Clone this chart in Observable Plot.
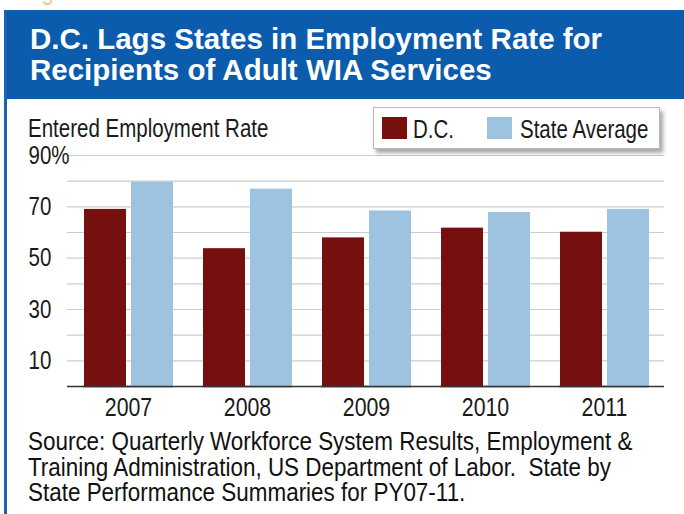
<!DOCTYPE html>
<html>
<head>
<meta charset="utf-8">
<script src="https://cdn.jsdelivr.net/npm/d3@7"></script>
<script src="https://cdn.jsdelivr.net/npm/@observablehq/plot@0.6"></script>
<style>
  html, body { margin: 0; padding: 0; background: #fff; }
  body { width: 684px; height: 514px; position: relative; overflow: hidden;
         font-family: "Liberation Sans", Arial, sans-serif; }
  .abs { position: absolute; white-space: nowrap; }
  .nar { display: inline-block; transform: scaleX(0.82); transform-origin: 0 0; }
  #fig { left: 24px; top: -22px; font-size: 26px; color: #f0c68a; line-height: 26px; }
  #banner { left: 4px; top: 10px; width: 680px; height: 89px; background: #0b5cad; }
  #title { left: 30px; top: 23px; font-size: 29.5px; font-weight: bold; color: #fff; line-height: 31px; }
  #leftborder { left: 4px; top: 10px; width: 3px; height: 504px; background: #1b64b1; }
  #ylabel { left: 28px; top: 116px; font-size: 25px; line-height: 25px; color: #1a1a1a; }
  #legend { left: 373px; top: 107px; width: 285px; height: 40px; background: #fff;
            border: 1px solid #b8b8b8; box-shadow: 3px 4px 4px rgba(0,0,0,0.35); }
  .sw { position: absolute; top: 9px; width: 25px; height: 22px; }
  .lt { position: absolute; top: 9px; font-size: 25px; line-height: 25px; color: #1a1a1a; white-space: nowrap; }
  #caption { left: 28px; top: 429px; font-size: 25.5px; line-height: 25.5px; color: #111; }
  #caption .nar { transform: scaleX(0.88); }
  .layer { position: absolute; left: 0; top: 140px; }
</style>
</head>
<body>
<div id="fig" class="abs"><span class="nar">Figure 1</span></div>
<div id="banner" class="abs"></div>
<div id="leftborder" class="abs"></div>
<div id="title" class="abs">D.C. Lags States in Employment Rate for<br>Recipients of Adult WIA Services</div>
<div id="under" class="layer"></div>
<div id="bars" class="layer"></div>
<div id="ylabel" class="abs"><span class="nar">Entered Employment Rate</span></div>
<div id="legend" class="abs"></div>
<div id="caption" class="abs"><span class="nar">Source: Quarterly Workforce System Results, Employment &amp;<br>Training Administration, US Department of Labor.&nbsp; State by<br>State Performance Summaries for PY07-11.</span></div>
<script>
const years = ["2007", "2008", "2009", "2010", "2011"];
const series = ["D.C.", "State Average"];
const dcValues = [69.0, 53.7, 57.9, 61.7, 60.1];
const stateValues = [79.6, 76.9, 68.4, 67.8, 69.0];
const colors = ["#76100f", "#9dc3e0"];
const yTicks = [10, 30, 50, 70, 90];
const gridTicks = [10, 20, 30, 40, 50, 60, 70, 80, 90];

const data = years.flatMap((year, i) => [
  {year, series: series[0], value: dcValues[i]},
  {year, series: series[1], value: stateValues[i]}
]);

const common = {
  width: 684,
  height: 290,
  marginLeft: 67,
  marginRight: 20,
  marginTop: 15,
  marginBottom: 44,
  style: {fontFamily: '"Liberation Sans", Arial, sans-serif', background: "transparent", overflow: "visible"},
  y: {domain: [0, 90], label: null}
};

function narrowText(svg) {
  svg.querySelectorAll("text").forEach(t => {
    const tr = t.getAttribute("transform") || "";
    const x = t.getAttribute("x");
    if (x !== null) t.setAttribute("x", +x / 0.82);
    t.setAttribute("transform", tr + " scale(0.82,1)");
  });
  return svg;
}

// underlay: continuous gridlines, baseline and y-axis labels
const under = Plot.plot({
  ...common,
  marks: [
    Plot.ruleY(gridTicks, {stroke: "#cdcdcd", strokeWidth: 1.2}),
    Plot.ruleY([0], {stroke: "#333", strokeWidth: 1.6}),
    Plot.axisY(yTicks, {
      tickSize: 0, tickPadding: 0, textAnchor: "start", dx: -39,
      fontSize: 25, fill: "#1a1a1a",
      tickFormat: d => d === 90 ? "90%" : String(d), label: null
    })
  ]
});
document.getElementById("under").appendChild(narrowText(under));

// grouped bars
const bars = Plot.plot({
  ...common,
  fx: {domain: years, paddingInner: 0.245, paddingOuter: 0.1225, label: null},
  x: {domain: series, paddingInner: 0.115, paddingOuter: 0, axis: null},
  color: {domain: series, range: colors},
  marks: [
    Plot.barY(data, {fx: "year", x: "series", y: "value", fill: "series"}),
    Plot.ruleY([0], {stroke: "#333", strokeWidth: 1.6}),
    Plot.axisY({ticks: [], label: null, tickSize: 0}),
    Plot.axisFx({anchor: "bottom", tickSize: 0, tickPadding: 11, fontSize: 26, fill: "#1a1a1a", label: null})
  ]
});
document.getElementById("bars").appendChild(narrowText(bars));

const legend = document.getElementById("legend");
const swX = [8, 113];
const txX = [39, 146];
series.forEach((s, i) => {
  const sw = document.createElement("div");
  sw.className = "sw"; sw.style.left = swX[i] + "px"; sw.style.background = colors[i];
  legend.appendChild(sw);
  const t = document.createElement("div");
  t.className = "lt"; t.style.left = txX[i] + "px";
  const sp = document.createElement("span");
  sp.className = "nar"; sp.textContent = s;
  t.appendChild(sp);
  legend.appendChild(t);
});
</script>
</body>
</html>
